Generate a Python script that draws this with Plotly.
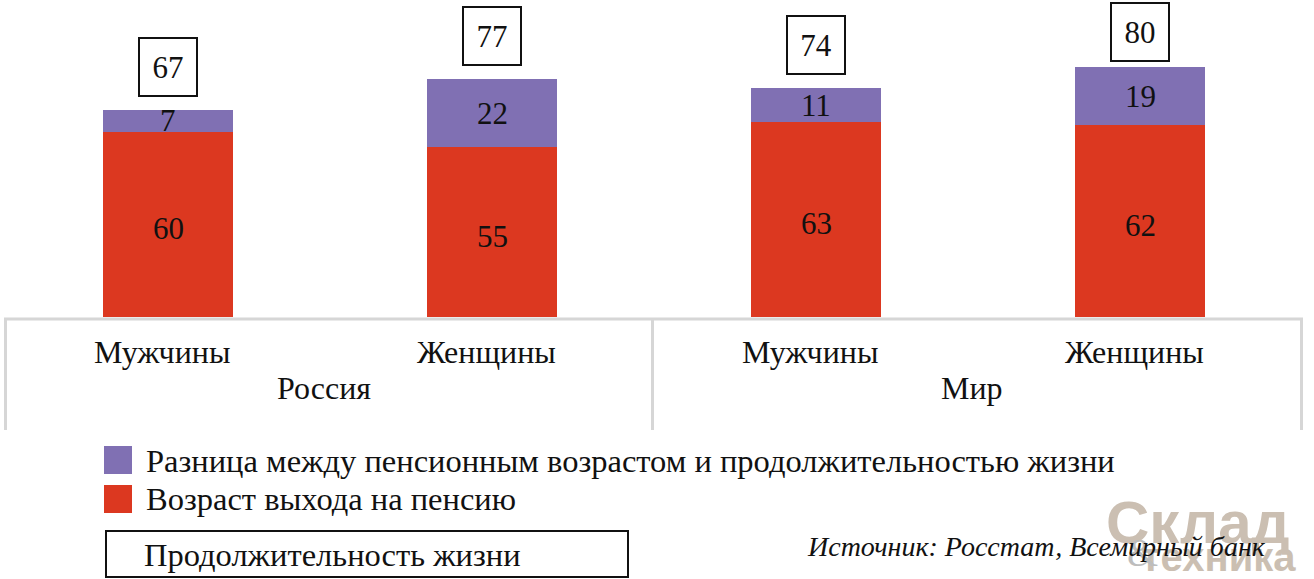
import plotly.graph_objects as go

# ---- data ----
categories = ["Мужчины", "Женщины", "Мужчины", "Женщины"]
groups = ["Россия", "Мир"]
retirement_age = [60, 55, 63, 62]          # Возраст выхода на пенсию
gap_years = [7, 22, 11, 19]                # Разница между пенсионным возрастом и продолжительностью жизни
life_expectancy = [67, 77, 74, 80]         # Продолжительность жизни

legend_gap = "Разница между пенсионным возрастом и продолжительностью жизни"
legend_ret = "Возраст выхода на пенсию"
legend_life = "Продолжительность жизни"
source_text = "Источник: Росстат, Всемирный банк"

# ---- layout constants ----
W, H = 1314, 579
ML, MR, MT = 6, 12, 0
BASE_PX = 317
MB = H - BASE_PX
PX_PER_UNIT = 3.09
YMAX = BASE_PX / PX_PER_UNIT
PW = W - ML - MR

RED = "#dc3820"
PURPLE = "#8070b3"
GRID = "#d6d6d6"
FONT = "Liberation Serif"
LOGO = "#cbbfb2"


def xp(px):
    return (px - ML) / PW


def yp(py):
    return (BASE_PX - py) / BASE_PX


xs = list(range(len(categories)))

fig = go.Figure()
fig.add_trace(go.Bar(x=xs, y=retirement_age, marker=dict(color=RED, line=dict(width=0)),
                     width=0.4, showlegend=False, hoverinfo="skip"))
fig.add_trace(go.Bar(x=xs, y=gap_years, marker=dict(color=PURPLE, line=dict(width=0)),
                     width=0.4, showlegend=False, hoverinfo="skip"))

annotations = []
shapes = []


def txt(x, y, text, size, xref="paper", yref="paper", xanchor="center", **kw):
    d = dict(x=x, y=y, xref=xref, yref=yref, text=text, showarrow=False,
             xanchor=xanchor, yanchor="middle", font=dict(family=FONT, size=size, color="#111"))
    d.update(kw)
    return d


# values inside segments
for i in xs:
    annotations.append(txt(i, retirement_age[i] / 2, str(retirement_age[i]), 31,
                           xref="x", yref="y", yshift=-4))
    annotations.append(txt(i, retirement_age[i] + gap_years[i] / 2, str(gap_years[i]), 31,
                           xref="x", yref="y"))
    # life expectancy box above bar
    top_px = BASE_PX - life_expectancy[i] * PX_PER_UNIT
    center_px = max(top_px - 43, 32)
    annotations.append(txt(i, yp(center_px), str(life_expectancy[i]), 31, xref="x",
                           width=56, height=56, bordercolor="#111", borderwidth=2, borderpad=0,
                           bgcolor="white", valign="middle"))

# category labels
for i, c in enumerate(categories):
    annotations.append(txt(i, yp(352), c, 32, xref="x", xshift=-6))
for g_i, g in enumerate(groups):
    annotations.append(txt(0.5 + 2 * g_i, yp(388), g, 32, xref="x", xshift=-6))

# axis box lines
shapes.append(dict(type="line", xref="paper", yref="paper", x0=xp(4), x1=xp(1303), y0=yp(319), y1=yp(319),
                   line=dict(color=GRID, width=3)))
for px in (5.5, 652.5, 1301.5):
    shapes.append(dict(type="line", xref="paper", yref="paper", x0=xp(px), x1=xp(px), y0=yp(319), y1=yp(430),
                       line=dict(color=GRID, width=3)))

# custom legend
shapes.append(dict(type="rect", xref="paper", yref="paper", x0=xp(104), x1=xp(132), y0=yp(446), y1=yp(474),
                   fillcolor=PURPLE, line=dict(width=0)))
shapes.append(dict(type="rect", xref="paper", yref="paper", x0=xp(104), x1=xp(132), y0=yp(485), y1=yp(513),
                   fillcolor=RED, line=dict(width=0)))
shapes.append(dict(type="rect", xref="paper", yref="paper", x0=xp(106), x1=xp(628), y0=yp(531), y1=yp(577),
                   fillcolor="white", line=dict(color="#111", width=2)))
annotations.append(txt(xp(144), yp(461), legend_gap, 32.5, xanchor="left"))
annotations.append(txt(xp(144), yp(499), legend_ret, 32.5, xanchor="left"))
annotations.append(txt(xp(142), yp(555), legend_life, 32.5, xanchor="left"))

# watermark logo
annotations.append(dict(x=xp(1292), y=yp(522), xref="paper", yref="paper", text="<b>Склад</b>",
                        showarrow=False, xanchor="right", yanchor="middle",
                        font=dict(family="Liberation Sans", size=60, color=LOGO)))
annotations.append(dict(x=xp(1298), y=yp(557), xref="paper", yref="paper", text="<b>техника</b>",
                        showarrow=False, xanchor="right", yanchor="middle",
                        font=dict(family="Liberation Sans", size=40, color=LOGO)))
annotations.append(dict(x=xp(1142), y=yp(552), xref="paper", yref="paper", text="&amp;",
                        showarrow=False, xanchor="center", yanchor="middle",
                        font=dict(family="Liberation Serif", size=40, color="#bdbdbd")))

# source
annotations.append(txt(xp(1268), yp(546), "<i>" + source_text + "</i>", 28, xanchor="right"))

fig.update_layout(
    width=W, height=H,
    margin=dict(l=ML, r=MR, t=MT, b=MB, autoexpand=False),
    barmode="stack", bargap=0.6,
    plot_bgcolor="white", paper_bgcolor="white",
    xaxis=dict(range=[-0.5, 3.5], showticklabels=False, showgrid=False, zeroline=False, showline=False,
               ticks="", fixedrange=True),
    yaxis=dict(range=[0, YMAX], showticklabels=False, showgrid=False, zeroline=False, showline=False,
               ticks="", fixedrange=True),
    annotations=annotations, shapes=shapes,
    showlegend=False,
)

fig.write_html("out.html", config={"displayModeBar": False},
               post_script="document.body.style.margin='0';")
